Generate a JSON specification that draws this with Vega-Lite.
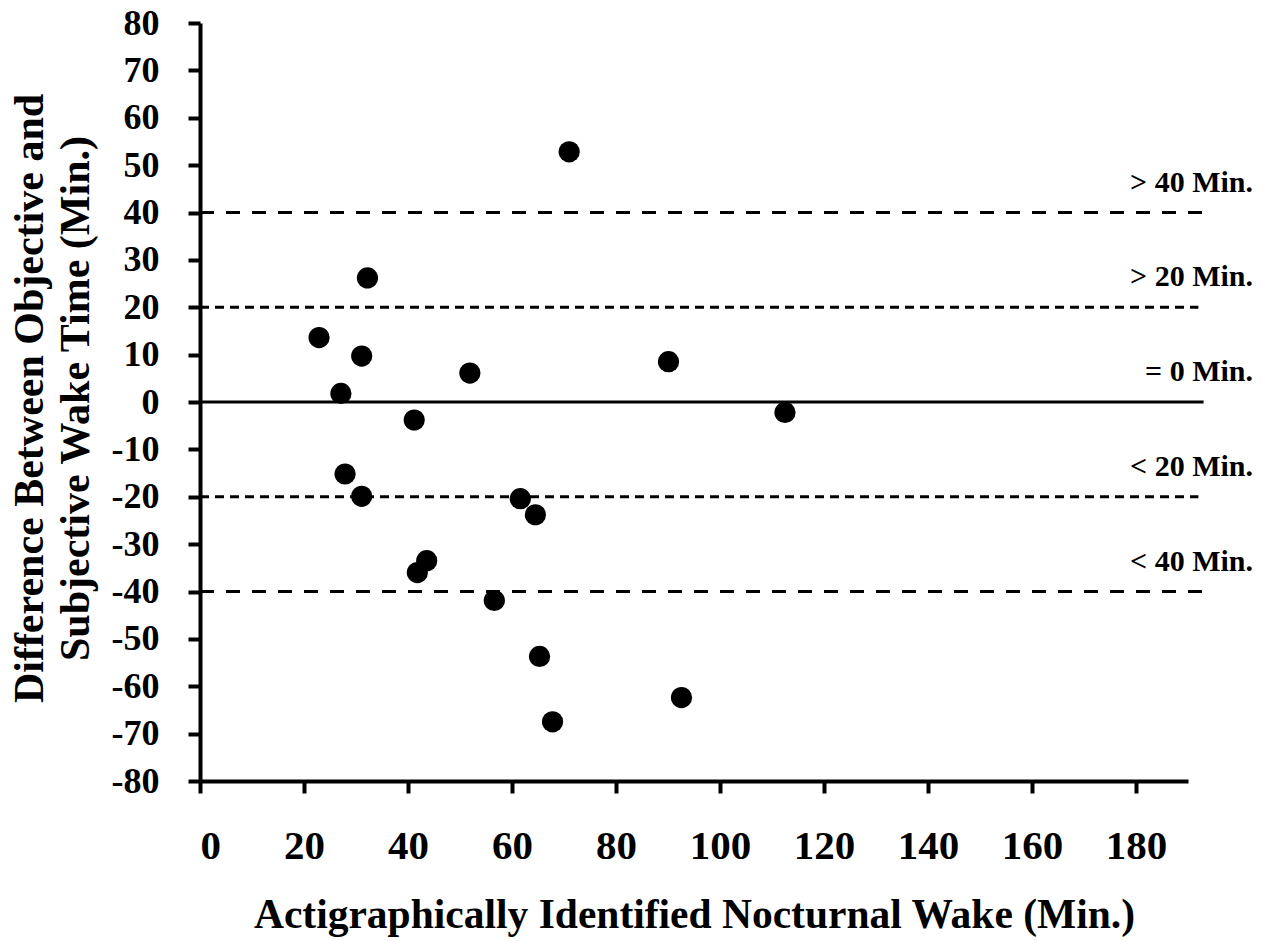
{
  "$schema": "https://vega.github.io/schema/vega-lite/v6.json",
  "width": 988,
  "height": 758,
  "autosize": {"type": "none"},
  "padding": {"left": 200, "top": 23, "right": 77, "bottom": 160},
  "background": "white",
  "config": {
    "view": {"stroke": null},
    "font": "Liberation Serif",
    "axis": {
      "domainColor": "black",
      "domainWidth": 4,
      "tickColor": "black",
      "tickWidth": 4,
      "tickSize": 12,
      "grid": false,
      "labelFont": "Liberation Serif",
      "labelFontWeight": "bold",
      "labelColor": "black",
      "titleFont": "Liberation Serif",
      "titleFontWeight": "bold",
      "titleColor": "black"
    }
  },
  "datasets": {
    "points": [
      {"wake": 71.0, "diff": 52.8},
      {"wake": 32.2, "diff": 26.2},
      {"wake": 22.9, "diff": 13.6},
      {"wake": 31.1, "diff": 9.7},
      {"wake": 27.1, "diff": 1.8},
      {"wake": 51.9, "diff": 6.1},
      {"wake": 90.1, "diff": 8.5},
      {"wake": 41.2, "diff": -3.8},
      {"wake": 112.5, "diff": -2.2},
      {"wake": 27.9, "diff": -15.2},
      {"wake": 31.1, "diff": -19.9},
      {"wake": 61.6, "diff": -20.4},
      {"wake": 64.5, "diff": -23.8},
      {"wake": 43.6, "diff": -33.5},
      {"wake": 41.8, "diff": -36.0},
      {"wake": 56.6, "diff": -41.9},
      {"wake": 65.3, "diff": -53.7},
      {"wake": 67.8, "diff": -67.5},
      {"wake": 92.6, "diff": -62.4}
    ],
    "refs": [
      {"level": 40, "style": "long", "label": "> 40 Min.", "start": 0, "end": 193},
      {"level": 20, "style": "short", "label": "> 20 Min.", "start": 0, "end": 192},
      {"level": 0, "style": "solid", "label": "= 0 Min.", "start": 0, "end": 193},
      {"level": -20, "style": "short", "label": "< 20 Min.", "start": 0, "end": 192},
      {"level": -40, "style": "long", "label": "< 40 Min.", "start": 0, "end": 193}
    ]
  },
  "layer": [
    {
      "data": {"name": "refs"},
      "transform": [{"filter": "datum.style === 'solid'"}],
      "mark": {"type": "rule", "color": "black", "strokeWidth": 3, "clip": false},
      "encoding": {
        "x": {"field": "start", "type": "quantitative", "scale": {"domain": [0, 190], "nice": false}},
        "x2": {"field": "end"},
        "y": {"field": "level", "type": "quantitative", "scale": {"domain": [-80, 80], "nice": false}}
      }
    },
    {
      "data": {"name": "refs"},
      "transform": [{"filter": "datum.style === 'long'"}],
      "mark": {"type": "rule", "color": "black", "strokeWidth": 3, "strokeDash": [14, 12], "clip": false},
      "encoding": {
        "x": {"field": "start", "type": "quantitative"},
        "x2": {"field": "end"},
        "y": {"field": "level", "type": "quantitative"}
      }
    },
    {
      "data": {"name": "refs"},
      "transform": [{"filter": "datum.style === 'short'"}],
      "mark": {"type": "rule", "color": "black", "strokeWidth": 3, "strokeDash": [9, 6], "clip": false},
      "encoding": {
        "x": {"field": "start", "type": "quantitative"},
        "x2": {"field": "end"},
        "y": {"field": "level", "type": "quantitative"}
      }
    },
    {
      "data": {"name": "refs"},
      "mark": {"type": "text", "align": "right", "baseline": "alphabetic", "dy": -21, "dx": 1053, "font": "Liberation Serif", "fontWeight": "bold", "fontSize": 30, "color": "black", "clip": false},
      "encoding": {
        "x": {"datum": 0, "type": "quantitative"},
        "y": {"field": "level", "type": "quantitative"},
        "text": {"field": "label"}
      }
    },
    {
      "data": {"name": "points"},
      "mark": {"type": "circle", "color": "black", "opacity": 1, "size": 450},
      "encoding": {
        "x": {
          "field": "wake",
          "type": "quantitative",
          "scale": {"domain": [0, 190], "nice": false, "zero": false},
          "axis": {
            "values": [0, 20, 40, 60, 80, 100, 120, 140, 160, 180],
            "labelFontSize": 41,
            "labelBaseline": "alphabetic",
            "labelPadding": 65,
            "title": "Actigraphically Identified Nocturnal Wake (Min.)",
            "titleFontSize": 41.5,
            "titleBaseline": "alphabetic",
            "titleY": 146
          }
        },
        "y": {
          "field": "diff",
          "type": "quantitative",
          "scale": {"domain": [-80, 80], "nice": false},
          "axis": {
            "values": [-80, -70, -60, -50, -40, -30, -20, -10, 0, 10, 20, 30, 40, 50, 60, 70, 80],
            "labelExpr": "'' + datum.value",
            "labelFontSize": 36,
            "labelPadding": 29,
            "title": ["Difference Between Objective and", "Subjective Wake Time (Min.)"],
            "titleFontSize": 42,
            "titleAngle": -90,
            "titleAlign": "center",
            "titleBaseline": "alphabetic",
            "titleLineHeight": 46,
            "titleX": -158,
            "titleY": 375
          }
        }
      }
    }
  ]
}
